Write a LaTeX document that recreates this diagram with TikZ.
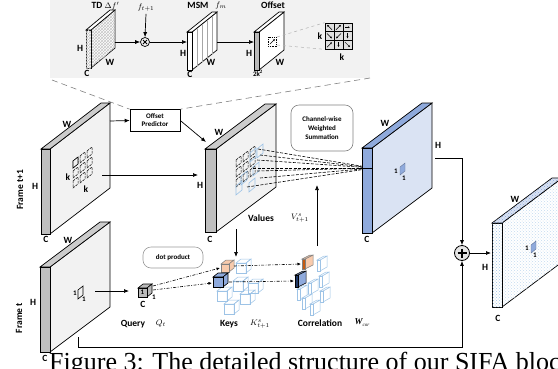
\documentclass[tikz,border=0pt]{standalone}
\usepackage{fontspec}
\setmainfont{Liberation Serif}
\setsansfont{Carlito}
\usetikzlibrary{arrows.meta,patterns}
\definecolor{bside}{RGB}{143,170,220}
\definecolor{bface}{RGB}{218,227,243}
\definecolor{lblue}{RGB}{157,195,230}
\definecolor{orf}{RGB}{248,203,173}
\definecolor{ord}{RGB}{197,90,17}
\definecolor{navy}{RGB}{32,56,100}
\newcommand\drawplate[9]{%
  \filldraw[#9] (#1,#2) -- ++(#5,-#6) -- ++(0,#3) -- ++(-#5,#6) -- cycle;
  \filldraw[#8] (#1-#4,#2) -- (#1,#2) -- ++(#5,-#6) -- ++(-#4,0) -- cycle;
  \filldraw[#7] (#1-#4,#2) rectangle (#1,#2+#3);
}
\newcommand\minicube[4]{% x y size style
  \filldraw[#4] (#1,#2) -- ++(5,-4) -- ++(#3,0) -- ++(-5,4) -- cycle;
  \filldraw[#4] (#1+#3,#2) -- ++(5,-4) -- ++(0,#3) -- ++(-5,4) -- cycle;
  \filldraw[#4] (#1,#2) rectangle ++(#3,#3);
}
\tikzset{
  lab/.style={font=\sffamily\bfseries\fontsize{9.5}{10}\selectfont, inner sep=0},
  slab/.style={font=\sffamily\bfseries\fontsize{7}{8}\selectfont, inner sep=0, align=center},
  mth/.style={font=\fontsize{8}{8}\selectfont, inner sep=0},
  arr/.style={-{Latex[length=5pt,width=4pt]}, line width=0.7pt},
  plateline/.style={line width=0.7pt, draw=black},
  dd/.style={dash pattern=on 3pt off 1.5pt on 0.8pt off 1.5pt, line width=0.6pt, -{Latex[length=3.5pt,width=3pt]}},
  cellst/.style={line width=0.5pt, dash pattern=on 2.5pt off 1pt},
}
\begin{document}
\begin{tikzpicture}[x=1pt,y=-1pt]
\useasboundingbox (0,0) rectangle (558,368);
% ---------- top panel ----------
\fill[gray!10] (50,0) rectangle (370,78);
% TD plate
\drawplate{91}{30}{38}{5}{24}{20}{plateline,fill=white,postaction={pattern=crosshatch,pattern color=gray!45}}{plateline,fill=white}{plateline,fill=white,postaction={pattern=crosshatch,pattern color=gray!45}}
\node[lab] at (97,5) {TD};
\node[mth] at (112,6) {$\Delta f'$};
\node[lab] at (80,48) {H};
\node[lab] at (110,62) {W};
\node[lab] at (87,73) {C};
% multiply
\node[circle,draw,line width=0.7pt,inner sep=0,minimum size=9pt] (mul) at (145,42) {};
\draw[line width=0.8pt] (143,40) -- (147,44) (147,40) -- (143,44);
\node[mth] (ft1) at (146,8) {$f_{t+1}$};
\coordinate (tdR) at (115,42);
\draw[arr] (tdR) -- (mul.west);
\draw[arr] (ft1.south) ++(0,2) -- (mul.north);
% MSM plate
\drawplate{192}{32}{38}{5}{25}{20}{plateline,fill=white}{plateline,fill=white}{plateline,fill=white}
\foreach \xx in {197,202,207,212}{
  \draw[gray!70,line width=0.4pt] (\xx,{32-(\xx-192)*0.8}) -- ++(0,38);
}
\coordinate (msmL) at (187,42);
\draw[arr] (mul.east) -- (msmL);
\node[lab] at (198,5) {MSM};
\node[mth] at (221,5) {$f_m$};
\node[lab] at (183,53) {H};
\node[lab] at (211,62) {W};
\node[lab] at (190,74) {C};
% Offset plate
\drawplate{259}{32}{38}{5}{25}{20}{plateline,fill=gray!55}{plateline,fill=white}{plateline,fill=white}
\coordinate (msmR) at (217,42);
\coordinate (offL) at (254,42);
\draw[arr] (msmR) -- (offL);
\node[lab] at (273,5) {Offset};
\node[lab] at (249,53) {H};
\node[lab] at (280,62) {W};
\node[lab,font=\sffamily\bfseries\fontsize{7}{8}\selectfont] at (258,73) {2k$^{\mathbf 2}$};
\draw[line width=0.4pt,dash pattern=on 1pt off 0.8pt] (268,37) rectangle (276,46);
\draw[-{Latex[length=2pt,width=2pt]},line width=0.4pt] (270,44) -- (275,39);
% k x k grid
\node[draw,fill=gray!25,line width=0.7pt,minimum width=27pt,minimum height=26pt,inner sep=0] (grid) at (338.5,36) {};
\draw[line width=0.6pt] (334,23) -- (334,49) (343,23) -- (343,49) (325,31.67) -- (352,31.67) (325,40.33) -- (352,40.33);
\foreach \i/\j/\dx/\dy in {0/0/-1/-1,1/0/1/-1,2/0/1/0,0/1/1/1,1/1/-1/1,2/1/0/1,0/2/1/-1,1/2/0/1,2/2/1/1}{
  \draw[-{Latex[length=2pt,width=2pt]},line width=0.5pt] ({329.5+9*\i-2.5*\dx},{27.3+8.67*\j-2.5*\dy}) -- ({329.5+9*\i+2.5*\dx},{27.3+8.67*\j+2.5*\dy});
}
\coordinate (obA) at (277,37);
\coordinate (obB) at (277,45);
\draw[gray!60,dashed,line width=0.5pt] (obA) -- (grid.north west);
\draw[gray!60,dashed,line width=0.5pt] (obB) -- (grid.south west);
\node[lab] at (320,36) {k};
\node[lab] at (342,57) {k};
% ---------- Offset predictor ----------
\node[draw,line width=0.6pt,minimum width=50pt,minimum height=22pt,slab,inner sep=0] (op) at (155,120.5) {Offset\\Predictor};
\draw[gray,dash pattern=on 6pt off 4pt,line width=0.6pt] (52,80) -- (op.north west);
\draw[gray,dash pattern=on 6pt off 4pt,line width=0.6pt] (370,78) -- (op.north east);
% ---------- Frame t+1 ----------
\drawplate{50}{149}{85}{9}{60}{46}{plateline,fill=gray!50}{plateline,fill=gray!40}{plateline,fill=gray!10}
\node[lab] at (67,124) {W};
\node[lab] at (35,186) {H};
\node[lab] at (46,239) {C};
\node[lab,rotate=90] at (20,190) {Frame t+1};
\foreach \i in {0,1,2}{\foreach \j in {0,1,2}{
  \draw[cellst] ({73+7*\i},{161+10*\j-5*\i}) -- ++(5,-4) -- ++(0,7) -- ++(-5,4) -- cycle;
}}
\draw[line width=0.6pt,fill=gray!10] (73,161) -- ++(5,-4) -- ++(0,7) -- ++(-5,4) -- cycle;
\node[lab] at (68,177) {k};
\node[lab] at (86,189) {k};
\coordinate (f1R) at (110,121);
\draw[arr] (f1R) -- (op.west);
\coordinate (f1c) at (102,175);
\coordinate (vL) at (198,175);
\draw[arr] (f1c) -- (vL);
% ---------- Values ----------
\drawplate{216}{149}{83}{11}{60}{45}{plateline,fill=gray!50}{plateline,fill=gray!40}{plateline,fill=gray!10}
\coordinate (vTip) at (206,142);
\draw[arr] (op.east) -- (vTip);
\node[lab] at (219,132) {W};
\node[lab] at (200,185) {H};
\node[lab] at (210,239) {C};
\foreach \i in {0,1,2}{\foreach \j in {0,1,2}{
  \draw[cellst] ({236+7*\i},{160+10*\j-5*\i}) -- ++(5,-4) -- ++(0,7) -- ++(-5,4) -- cycle;
}}
\foreach \bx/\by in {250/153,257/149,253/167,241/176,249/183,236/186}{
  \draw[lblue,line width=0.6pt] (\bx,\by) -- ++(6,-5) -- ++(0,9) -- ++(-6,5) -- cycle;
}
\coordinate (conv) at (373,168);
\foreach \sx/\sy in {258/149,260/155,257/160,253/168,257/171,260/178,247/187}{
  \coordinate (s) at (\sx,\sy);
  \draw[line width=0.6pt,dash pattern=on 3pt off 1.5pt] (s) -- (conv);
}
\node[lab] at (261,218) {Values};
\node[mth] at (300,218) {$V^{s}_{t+1}$};
% channel-wise box
\node[draw=gray,line width=0.6pt,rounded corners=8pt,minimum width=62pt,minimum height=46pt,slab] (cw) at (322,128) {Channel-wise\\[1pt]Weighted\\[1pt]Summation};
% ---------- blue plate ----------
\drawplate{372}{148}{85}{10}{60}{45}{plateline,fill=bside}{plateline,fill=bside}{plateline,fill=bface}
\draw[line width=0.8pt] (360,168) -- (conv);
\node[lab] at (385,123) {W};
\node[lab] at (438,145) {H};
\node[lab] at (367,239) {C};
\filldraw[navy!70,fill=bside,line width=0.4pt] (400,167) -- ++(5,-4) -- ++(0,8) -- ++(-5,4) -- cycle;
\node[lab,font=\sffamily\bfseries\fontsize{7}{7}\selectfont] at (396,171) {1};
\node[lab,font=\sffamily\bfseries\fontsize{7}{7}\selectfont] at (404,178) {1};
% ---------- plus ----------
\node[circle,draw,fill=gray!20,line width=0.8pt,minimum size=15pt,inner sep=0] (plus) at (462,253) {};
\draw[line width=1.4pt] (457.5,253) -- (466.5,253) (462,248.5) -- (462,257.5);
\coordinate (bH) at (435,158);
\draw[arr] (bH) -- (462,158) -- (plus.north);
\coordinate (oL) at (491,253);
\draw[arr] (plus.east) -- (oL);
\coordinate (ftB) at (78,337);
\draw[arr] (ftB) -- (78,347) -- (462,347) -- (plus.south);
% ---------- output plate ----------
\drawplate{502}{223}{84}{10}{60}{45}{plateline,fill=white,postaction={pattern=crosshatch dots,pattern color=lblue}}{plateline,fill=bface,postaction={pattern=crosshatch dots,pattern color=bside}}{plateline,fill=white,postaction={pattern=crosshatch dots,pattern color=lblue!60}}
\node[lab] at (515,199) {W};
\node[lab] at (485,267) {H};
\node[lab] at (498,318) {C};
\filldraw[navy!70,fill=bside,line width=0.4pt] (531,245) -- ++(5,-4) -- ++(0,8) -- ++(-5,4) -- cycle;
\node[lab,font=\sffamily\bfseries\fontsize{7}{7}\selectfont] at (527,248) {1};
\node[lab,font=\sffamily\bfseries\fontsize{7}{7}\selectfont] at (535,255) {1};
% ---------- Frame t ----------
\drawplate{50}{267}{85}{10}{60}{45}{plateline,fill=gray!50}{plateline,fill=gray!40}{plateline,fill=gray!10}
\node[lab] at (68,240) {W};
\node[lab] at (33,302) {H};
\node[lab] at (45,358) {C};
\node[lab,rotate=90] at (19,318) {Frame t};
\draw[line width=0.6pt] (78,290) -- ++(5,-4) -- ++(0,9) -- ++(-5,4) -- cycle;
\node[lab,font=\sffamily\bfseries\fontsize{7}{7}\selectfont] at (75,293) {1};
\node[lab,font=\sffamily\bfseries\fontsize{7}{7}\selectfont] at (84,299) {1};
\coordinate (ftc) at (95,291);
\coordinate (qL) at (129,291);
\draw[arr] (ftc) -- (qL);
% Query
\minicube{138}{288}{9}{line width=0.6pt,fill=gray!55}
\node[lab,font=\sffamily\bfseries\fontsize{7}{7}\selectfont] at (142.5,292.5) {1};
\node[lab] at (143,304) {C};
\node[lab,font=\sffamily\bfseries\fontsize{7}{7}\selectfont] at (154,297) {1};
\node[lab] at (133,324) {Query};
\node[mth] at (161,324) {$Q_t$};
\node[draw=gray!80,line width=0.6pt,rounded corners=8pt,minimum width=60pt,minimum height=21pt,slab] (dp) at (173,257.5) {dot product};
% Keys
\foreach \cx/\cy in {236/263,233/281,217/291,240/294,224/304,248/283}{
  \minicube{\cx}{\cy}{10}{lblue,line width=0.5pt,fill=none}
}
\minicube{221}{264}{8}{gray,line width=0.5pt,fill=orf}
\minicube{213}{277}{10}{black,line width=0.6pt,fill=bside}
\node[lab] at (229,324) {Keys};
\node[mth] at (260,324) {$K^{s}_{t+1}$};
\coordinate (vB) at (236,229);
\coordinate (kT) at (236,257);
\draw[arr] (vB) -- (kT);
\coordinate (q1) at (153,286);
\coordinate (q2) at (153,290);
\coordinate (ko) at (220,268);
\coordinate (kb) at (212,283);
\draw[dd] (q1) -- (ko);
\draw[dd] (q2) -- (kb);
% Correlation
\foreach \cx/\cy in {320/260,300/289,311/283,322/276,305/298,323/291,313/304}{
  \drawplate{\cx}{\cy}{11}{3}{7}{4}{lblue,line width=0.5pt,fill=white}{lblue,line width=0.5pt,fill=white}{lblue,line width=0.5pt,fill=white}
}
\drawplate{305}{259}{10}{3}{8}{4}{gray,line width=0.5pt,fill=ord}{gray,line width=0.5pt,fill=orf}{gray,line width=0.5pt,fill=orf}
\drawplate{298}{275}{12}{3}{8}{4}{black,line width=0.5pt,fill=navy}{black,line width=0.5pt,fill=bside}{black,line width=0.5pt,fill=bside}
\coordinate (ko2) at (234,266);
\coordinate (kb2) at (229,282);
\coordinate (co) at (301,264);
\coordinate (cb) at (294,281);
\draw[dd] (ko2) -- (co);
\draw[dd] (kb2) -- (cb);
\node[lab] at (320,323) {Correlation};
\node[mth,font=\fontsize{9}{9}\selectfont] at (362,323) {\textit{\textbf{W}}\kern-0.5pt\raisebox{-2pt}{\fontsize{5}{5}\selectfont\textit{cor}}};
\coordinate (cT) at (317,246);
\coordinate (sB) at (317,185);
\draw[arr] (cT) -- (sB);
% caption (cut by the page edge)
\node[anchor=base west,inner sep=0,font=\fontsize{26}{26}\selectfont] at (49,370) {Figure 3: The detailed structure of our SIFA block};
\end{tikzpicture}
\end{document}
